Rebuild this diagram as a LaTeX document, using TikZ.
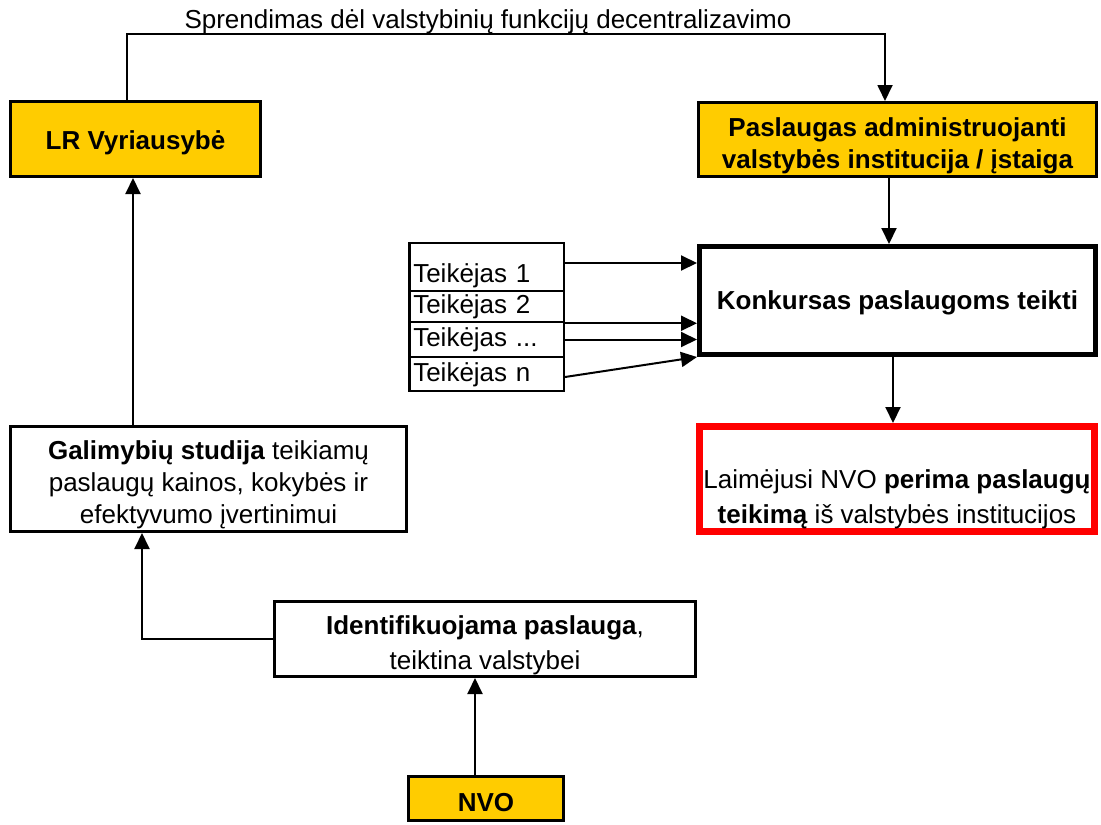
\documentclass[tikz,border=0pt]{standalone}
\usepackage{fontspec}
\setmainfont{Liberation Sans}
\usetikzlibrary{arrows.meta,calc}
\definecolor{boxyellow}{HTML}{FFCC00}
\definecolor{boxred}{HTML}{FF0000}
\newcommand{\lowr}{\rule{0pt}{30pt}}
\begin{document}
\begin{tikzpicture}[x=1pt,y=-1pt,
  txt/.style={font=\fontsize{26}{32}\selectfont},
  btxt/.style={font=\fontsize{26}{32}\selectfont\bfseries},
  wtxt/.style={font=\fontsize{26}{35}\selectfont},
  box/.style={draw=black, line width=3pt, align=center, inner sep=0pt},
  yellowbox/.style={box, btxt, fill=boxyellow},
  rowbox/.style={draw=black, line width=2.5pt, txt, inner xsep=4pt, inner ysep=0pt,
     text width=146.5pt, align=left, text depth=0pt, minimum width=154.5pt},
  conn/.style={line width=2pt},
  tip/.style={-{Triangle[length=16pt,width=15pt]}},
  arr/.style={conn, tip}
]
\useasboundingbox (0,0) rectangle (1101,825);

% top label
\node[txt, anchor=base, inner sep=0pt] (lbl) at (488,28) {Sprendimas dėl valstybinių funkcijų decentralizavimo};

% boxes
\node[yellowbox, minimum width=250pt, minimum height=75pt] (gov) at (135.5,139) {\rule{0pt}{27pt}LR Vyriausybė};
\node[yellowbox, minimum width=398pt, minimum height=74pt] (pas) at (897.5,139.5)
  {\rule{0pt}{32pt}Paslaugas administruojanti\\valstybės institucija / įstaiga};
\node[box, btxt, line width=5pt, minimum width=396pt, minimum height=108pt] (kon) at (897.5,300.5)
  {\rule{0pt}{23pt}Konkursas paslaugoms teikti};
\node[box, wtxt, draw=boxred, line width=7pt, minimum width=395pt, minimum height=105pt] (win) at (897,479)
  {\strut\\Laimėjusi NVO \textbf{perima paslaugų}\\\textbf{teikimą} iš valstybės institucijos};

\node[rowbox, minimum height=48pt, text height=30pt] (t1) at (486.5,267) {Teikėjas 1};
\node[rowbox, minimum height=31pt, text height=14pt] (t2) at (486.5,306.5) {Teikėjas 2};
\node[rowbox, minimum height=35pt, text height=14pt] (t3) at (486.5,339.5) {Teikėjas ...};
\node[rowbox, minimum height=34pt, text height=14pt] (t4) at (486.5,374) {Teikėjas n};

\node[box, txt, minimum width=396pt, minimum height=105pt] (stud) at (208.5,479)
  {\lowr\textbf{Galimybių studija} teikiamų\\paslaugų kainos, kokybės ir\\efektyvumo įvertinimui};
\node[box, wtxt, minimum width=421pt, minimum height=75pt] (ident) at (485,639)
  {\rule{0pt}{32pt}\textbf{Identifikuojama paslauga},\\teiktina valstybei};
\node[yellowbox, minimum width=155pt, minimum height=44pt] (nvo) at (486,798.5) {\rule{0pt}{26pt}NVO};

% connectors
\coordinate (topline) at (500,34);
\coordinate (c1) at ([xshift=-8.5pt]gov.north);
\coordinate (c2) at ([xshift=-12.5pt]pas.north);
\draw[line width=1.8pt, tip] (c1) -- (c1 |- topline) -- (c2 |- topline) -- (c2);

\coordinate (p1) at ([xshift=-8.5pt]pas.south);
\draw[arr] (p1) -- (p1 |- kon.north);
\coordinate (k1) at ([xshift=-4.5pt]kon.south);
\draw[arr] (k1) -- (k1 |- win.north);

\coordinate (a1) at ([yshift=4pt]t1.east);
\draw[arr] (a1) -- (a1 -| kon.west);
\draw[arr] (t2.south east) -- (t2.south east -| kon.west);
\draw[arr] (t3.east) -- (t3.east -| kon.west);
\coordinate (a4) at ([yshift=-3pt]t4.east);
\draw[arr] (a4) -- (kon.south west);

\coordinate (s1) at ([xshift=-75.5pt]stud.north);
\draw[arr] (s1) -- (s1 |- gov.south);
\coordinate (s2) at ([xshift=-66.5pt]stud.south);
\draw[arr] (ident.west) -| (s2);
\coordinate (n1) at ([xshift=-11pt]nvo.north);
\draw[arr] (n1) -- (n1 |- ident.south);
\end{tikzpicture}
\end{document}
